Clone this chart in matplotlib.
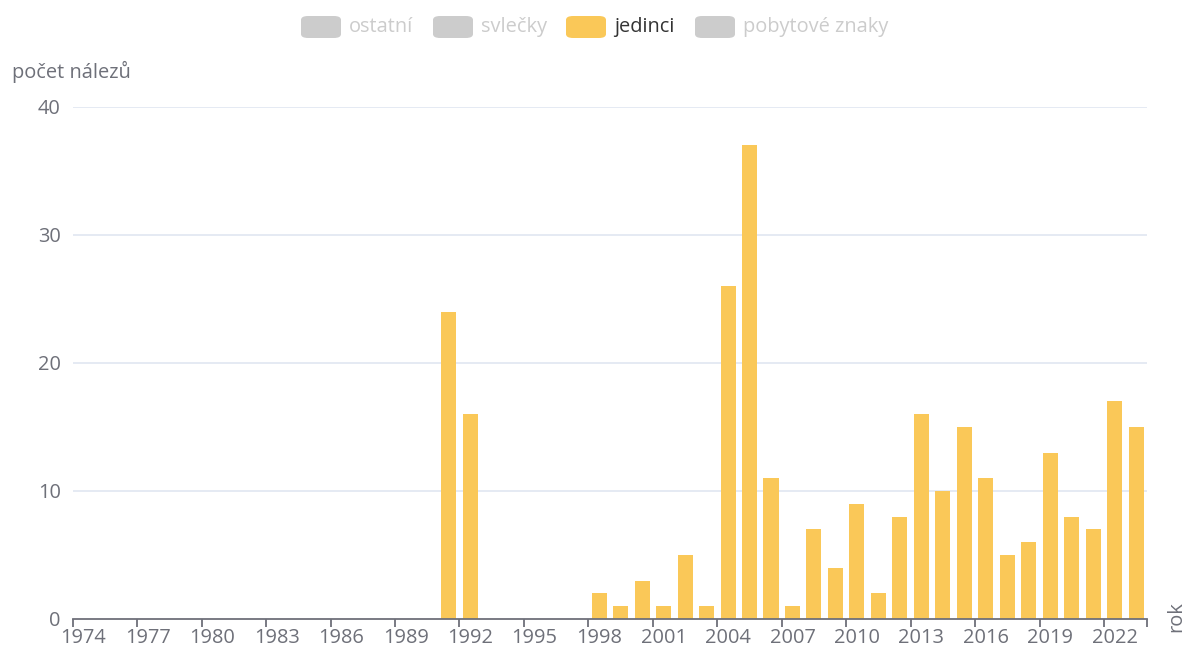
import numpy as np
import matplotlib
matplotlib.use("Agg")
import matplotlib.pyplot as plt
from matplotlib.patches import FancyBboxPatch

# data: jedinci per year (other series hidden in legend)
years = list(range(1974, 2024))
jedinci = [0] * 17 + [24, 16] + [0] * 5 + [2, 1, 3, 1, 5, 1, 26, 37, 11, 1, 7, 4, 9, 2,
                                           8, 16, 10, 15, 11, 5, 6, 13, 8, 7, 17, 15]
legend_names = ["ostatní", "svlečky", "jedinci", "pobytové znaky"]
legend_active = [False, False, True, False]
y_ticks = [0, 10, 20, 30, 40]

bar_color = "#fac858"
axis_color = "#6e7079"
grid_color = "#e0e6f1"
off_color = "#cccccc"

plt.rcParams["font.family"] = ["Open Sans", "DejaVu Sans"]
fs = 14.4

W, H = 1188, 650
fig = plt.figure(figsize=(W / 100, H / 100), dpi=100)
x0, x1 = 72.7, 1147
y0, y1 = 619, 107
ax = fig.add_axes([x0 / W, 1 - y0 / H, (x1 - x0) / W, (y0 - y1) / H])

x = np.arange(len(years))
ax.bar(x, jedinci, width=0.7, color=bar_color, zorder=3)

ax.set_xlim(-0.5, len(years) - 0.5)
ax.set_ylim(0, 40)

# grid
for v in y_ticks[1:]:
    ax.axhline(v, color=grid_color, lw=1.2, zorder=1)

for s in ["top", "right", "left"]:
    ax.spines[s].set_visible(False)
ax.spines["bottom"].set_color(axis_color)
ax.spines["bottom"].set_linewidth(1.3)
ax.spines["bottom"].set_zorder(4)

ax.set_yticks(y_ticks)
ax.set_yticklabels([str(v) for v in y_ticks])
ax.tick_params(axis="y", length=0, pad=8.5, labelsize=fs, labelcolor=axis_color)

lab_idx = list(range(0, len(years), 3))
ax.set_xticks(lab_idx)
ax.set_xticklabels([str(years[i]) for i in lab_idx])
ax.tick_params(axis="x", length=0, pad=6.5, labelsize=fs, labelcolor=axis_color)
# boundary ticks
bt = [i - 0.5 for i in lab_idx] + [len(years) - 0.5]
ax.set_xticks(bt, minor=True)
ax.tick_params(axis="x", which="minor", length=6, width=1.3, color=axis_color)

# axis names
fig.text(12 / W, 1 - 72 / H, "počet nálezů", fontsize=fs, color=axis_color,
         ha="left", va="center")
fig.text(1176 / W, 1 - 617 / H, "rok", fontsize=fs, color=axis_color,
         ha="center", va="center", rotation=90)

# legend
box_x = [301, 433, 566, 695]
cy = 27
for bx, name, act in zip(box_x, legend_names, legend_active):
    col = bar_color if act else off_color
    p = FancyBboxPatch((bx / W, (H - cy - 11) / H), 40 / W, 22 / H,
                       boxstyle="round,pad=0,rounding_size=0.006",
                       transform=fig.transFigure, facecolor=col, edgecolor="none")
    fig.patches.append(p)
    fig.text((bx + 48) / W, 1 - cy / H, name, fontsize=fs,
             color="#333333" if act else off_color, ha="left", va="center")

fig.savefig("out.png", dpi=100)
